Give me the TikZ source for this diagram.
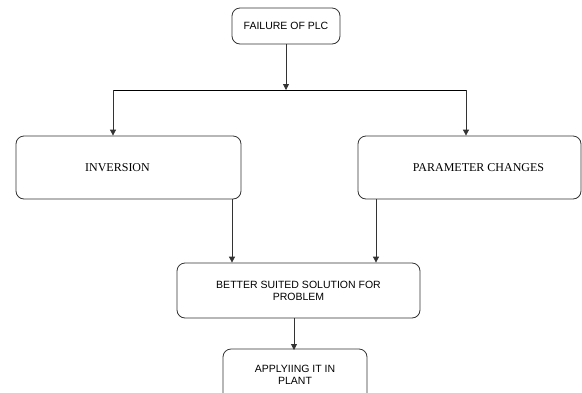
\documentclass[tikz,border=0pt]{standalone}
\usepackage{fontspec}
\setmainfont{Liberation Sans}
\newfontfamily\serifface{Liberation Serif}
\usetikzlibrary{arrows.meta}
\definecolor{edge}{HTML}{333333}
\tikzset{
  box/.style={draw=edge, line width=0.8pt, rounded corners=8pt, fill=white, inner sep=0pt, align=center},
  sanstext/.style={font=\fontsize{10.5}{12}\selectfont},
  seriftext/.style={font=\serifface\fontsize{12}{14}\selectfont},
  conn/.style={draw=edge, line width=0.8pt, -{Triangle[length=6pt,width=6pt]}},
  plain/.style={draw=black, line width=0.8pt}
}
\begin{document}
\begin{tikzpicture}[x=1pt,y=-1pt]
\useasboundingbox (0,0) rectangle (582,392);
\begin{scope}
\clip (0,0) rectangle (582,392);
\node[box, sanstext, minimum width=108pt, minimum height=36pt] (fail) at (286,26) {FAILURE OF PLC};
\node[box, seriftext, minimum width=225pt, minimum height=63pt] (inv) at (128.5,167.5) {\hspace*{-22pt}INVERSION};
\node[box, seriftext, minimum width=223pt, minimum height=63pt] (par) at (469.5,167.5) {\hspace*{18pt}PARAMETER CHANGES};
\node[box, sanstext, minimum width=243pt, minimum height=55pt] (bet) at (298.5,290.5) {BETTER SUITED SOLUTION FOR\\PROBLEM};
\node[box, sanstext, minimum width=144pt, minimum height=52pt] (app) at (295,375) {APPLYIING IT IN\\PLANT};
\end{scope}
\coordinate (j) at (286,90);
\coordinate (jl) at (113,90);
\coordinate (jr) at (466,90);
\draw[conn] (fail.south) -- (j);
\draw[plain] (jl) -- (jr);
\draw[conn] (jl) -- (jl |- inv.north);
\draw[conn] (jr) -- (jr |- par.north);
\coordinate (il) at (232,199);
\coordinate (pr) at (376,199);
\draw[conn] (il) -- (il |- bet.north);
\draw[conn] (pr) -- (pr |- bet.north);
\draw[conn] (294,318) -- (294,350);
\end{tikzpicture}
\end{document}
